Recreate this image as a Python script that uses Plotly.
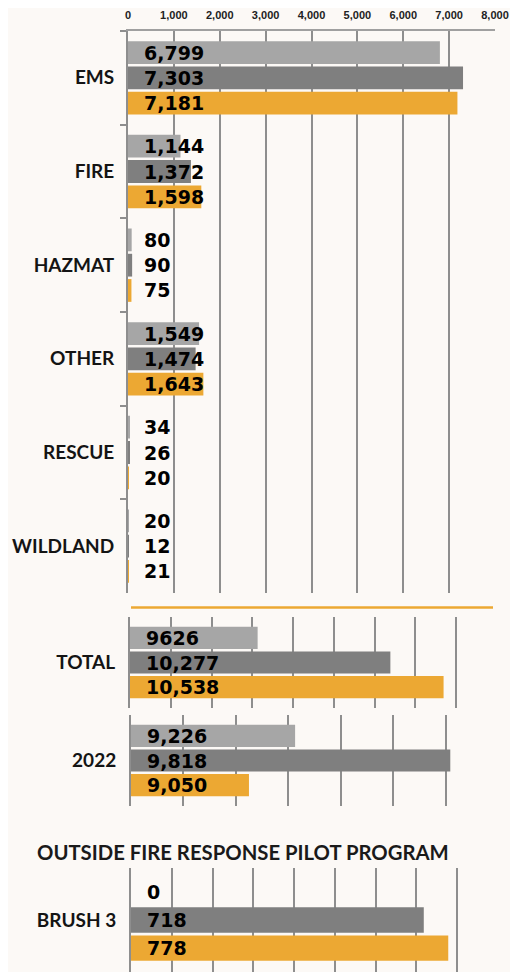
import plotly.graph_objects as go

# ---------------- data ----------------
categories = ["EMS", "FIRE", "HAZMAT", "OTHER", "RESCUE", "WILDLAND"]
series_names = ["Period 1", "Period 2", "Period 3"]
period1 = [6799, 1144, 80, 1549, 34, 20]
period2 = [7303, 1372, 90, 1474, 26, 12]
period3 = [7181, 1598, 75, 1643, 20, 21]

total_category = ["TOTAL"]
total_values = [9626, 10277, 10538]
total_labels = ["9626", "10,277", "10,538"]

prior_category = ["2022"]
prior_values = [9226, 9818, 9050]

brush_title = "OUTSIDE FIRE RESPONSE PILOT PROGRAM"
brush_category = ["BRUSH 3"]
brush_values = [0, 718, 778]

top_tickvals = [0, 1000, 2000, 3000, 4000, 5000, 6000, 7000, 8000]
top_ticktext = ["0", "1,000", "2,000", "3,000", "4,000", "5,000", "6,000", "7,000", "8,000"]

# ---------------- style ----------------
PAGE_W, PAGE_H = 518, 980
BODY_MARGIN = 8            # default page margin around the plot div
W, H = PAGE_W - 2 * BODY_MARGIN, PAGE_H - 2 * BODY_MARGIN
BG = "#fcf9f6"
COLORS = ["#a6a6a6", "#7f7f7f", "#eca833"]
GRID = "#8e8e8e"
BARGAP = 0.19
LABEL_FONT = dict(family="DejaVu Sans", size=19, color="#000000", weight="bold")
CAT_FONT = dict(family="Lato", size=19, color="#141414", weight="bold")


def fx(px):
    return min(1.0, max(0.0, (px - BODY_MARGIN) / W))


def fy(py):
    return min(1.0, max(0.0, 1 - (py - BODY_MARGIN) / H))


def px_x(a, b):
    return [fx(a), fx(b)]


def px_y(top, bottom):
    return [fy(bottom), fy(top)]


panels = [
    dict(ax="", cats=categories, series=[period1, period2, period3],
         texts=[[f"{v:,}" for v in s] for s in (period1, period2, period3)],
         rng=[0, 8000], dtick=1000, xdom=px_x(128, 495), ydom=px_y(31, 593), top=True),
    dict(ax="2", cats=total_category, series=[[v] for v in total_values],
         texts=[[t] for t in total_labels],
         rng=[9000, 10800], dtick=200, xdom=px_x(130, 497), ydom=px_y(617, 708), top=False),
    dict(ax="3", cats=prior_category, series=[[v] for v in prior_values],
         texts=[[f"{v:,}"] for v in prior_values],
         rng=[8600, 10000], dtick=200, xdom=px_x(131, 498), ydom=px_y(715, 806), top=False),
    dict(ax="4", cats=brush_category, series=[[v] for v in brush_values],
         texts=[[f"{v:,}"] for v in brush_values],
         rng=[0, 900], dtick=100, xdom=px_x(131, 498), ydom=px_y(868, 972), top=False),
]

fig = go.Figure()
annotations = []
layout_axes = {}
slot = (1 - BARGAP) / 3

for p in panels:
    xa, ya = "x" + p["ax"], "y" + p["ax"]
    for i, (vals, name, col) in enumerate(zip(p["series"], series_names, COLORS)):
        fig.add_trace(go.Bar(
            y=p["cats"], x=vals, name=name, orientation="h",
            marker=dict(color=col, line=dict(width=0)),
            xaxis=xa, yaxis=ya, showlegend=False,
        ))
        for j, t in enumerate(p["texts"][i]):
            annotations.append(dict(
                x=p["rng"][0], y=j + (i - 1) * slot, xref=xa, yref=ya,
                text=t, showarrow=False, xanchor="left", yanchor="middle",
                xshift=14, font=LABEL_FONT,
            ))
    xkey = "xaxis" + p["ax"]
    ykey = "yaxis" + p["ax"]
    xdict = dict(domain=p["xdom"], range=p["rng"], anchor=ya, showgrid=True,
                 gridcolor=GRID, gridwidth=2, zeroline=False, fixedrange=True,
                 tick0=p["rng"][0], dtick=p["dtick"], ticks="", automargin=False)
    if p["top"]:
        xdict.update(side="top", showline=True, linecolor="#a0a0a0", linewidth=2,
                     tickvals=top_tickvals, ticktext=top_ticktext,
                     tickfont=dict(family="Liberation Sans", size=11, color="#222222", weight="bold"),
                     ticklabelstandoff=6)
    else:
        xdict.update(showticklabels=False, showline=False)
    ydict = dict(domain=p["ydom"], type="category", autorange="reversed",
                 anchor=xa, showgrid=False, zeroline=False, showline=True,
                 linecolor=GRID, linewidth=2, mirror=False, automargin=False,
                 tickfont=CAT_FONT, fixedrange=True)
    if p["top"]:
        ydict.update(ticks="outside", tickson="boundaries", ticklen=6, tickwidth=2,
                     tickcolor=GRID, ticklabelstandoff=8)
    else:
        ydict.update(ticks="", ticklabelstandoff=9)
    layout_axes[xkey] = xdict
    layout_axes[ykey] = ydict

annotations.append(dict(
    x=fx(243), y=fy(852), xref="paper", yref="paper", text=brush_title,
    showarrow=False, xanchor="center", yanchor="middle",
    font=dict(family="Lato", size=20.3, color="#1a1a1a", weight="bold"),
))

fig.update_layout(
    width=W, height=H, margin=dict(l=0, r=0, t=0, b=0),
    paper_bgcolor=BG, plot_bgcolor=BG,
    barmode="group", bargap=BARGAP, bargroupgap=0.1,
    annotations=annotations,
    shapes=[dict(type="line", xref="paper", yref="paper",
                 x0=fx(131), x1=fx(493), y0=fy(607.5), y1=fy(607.5),
                 line=dict(color="#eca833", width=2.5))],
    **layout_axes,
)

fig.write_html("out.html", config={"displayModeBar": False})
